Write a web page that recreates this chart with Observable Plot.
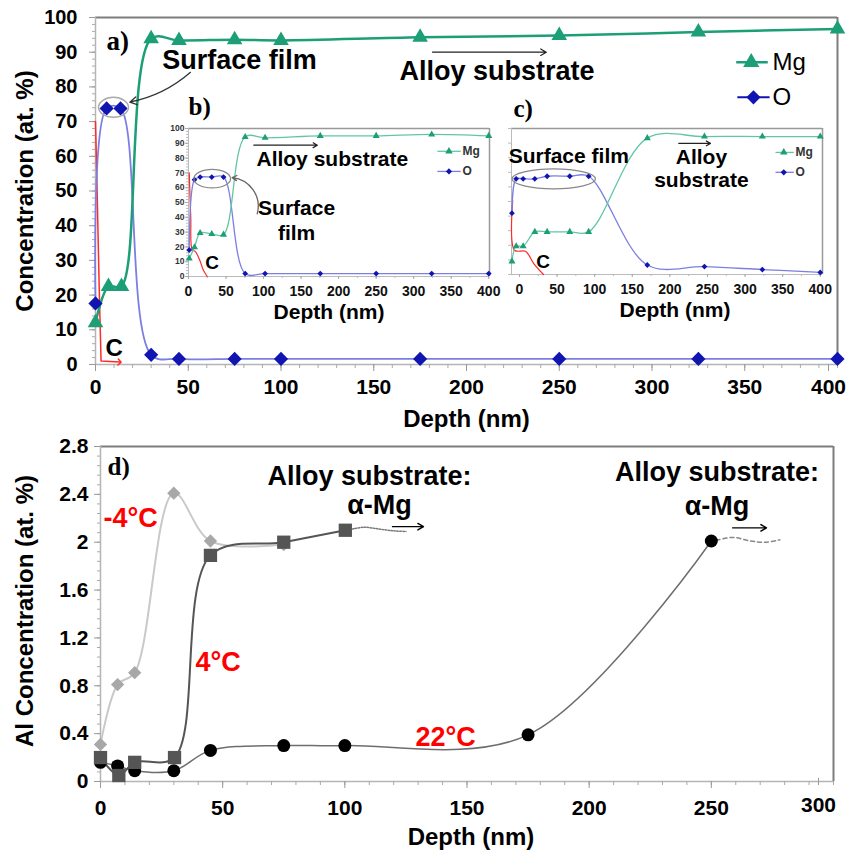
<!DOCTYPE html>
<html>
<head>
<meta charset="utf-8">
<script src="https://cdn.jsdelivr.net/npm/d3@7"></script>
<script src="https://cdn.jsdelivr.net/npm/@observablehq/plot@0.6"></script>
<style>
  html, body { margin: 0; padding: 0; background: #fff; }
  #root { position: relative; width: 848px; height: 855px; overflow: hidden; background: #fff; }
</style>
</head>
<body>
<div id="root"></div>
<script>
// ================= DATA =================
// Panel a) main depth profile
const depthMgA = [0, 7, 14, 30, 45, 75, 100, 175, 250, 325, 400];
const mgA      = [12, 22.5, 22.5, 93.9, 93.4, 93.6, 93.4, 94.3, 94.8, 95.8, 96.7];
const depthOA  = [0, 6, 13.5, 30, 45, 75, 100, 175, 250, 325, 400];
const oA       = [17.6, 73.8, 73.8, 2.8, 1.6, 1.6, 1.6, 1.6, 1.6, 1.6, 1.6];
const depthCA  = [0, 1, 2, 3, 13];
const cA       = [70, 47, 22, 1, 0.7];
const depthTicksA = [0, 50, 100, 150, 200, 250, 300, 350, 400];
const concTicksA  = [0, 10, 20, 30, 40, 50, 60, 70, 80, 90, 100];

// Inset b)
const depthB = [1, 8, 15.5, 31, 46.7, 75.5, 102, 175.5, 250, 324, 400];
const mgB    = [12.2, 19.7, 29.4, 28.7, 28.3, 94.3, 93.7, 95, 95, 96, 95];
const oB     = [17.9, 65.4, 67.2, 67.2, 67.2, 2, 2, 2, 2, 2, 2];
const depthCB = [1, 3, 5, 9, 15, 20, 25];
const cB      = [70, 40, 18, 17, 11, 4, 0];

// Inset c)
const depthC = [-10, -4.4, 4.9, 20.4, 36.8, 66.9, 92, 170, 246, 323, 400];
const mgC    = [9, 19.4, 19.4, 29.2, 29.2, 29.2, 29.2, 93.4, 94.5, 94.5, 94.5];
const oC     = [42, 65.5, 65.5, 65.5, 67.3, 67.3, 67.3, 6.5, 5.4, 3.4, 1.4];
const depthCC = [-9, -6.6, 8, 19, 32];
const cC      = [50.7, 16.6, 15.9, 7.5, 0];
const insetDepthTicks = [0, 50, 100, 150, 200, 250, 300, 350, 400];
const insetConcTicks  = [0, 10, 20, 30, 40, 50, 60, 70, 80, 90, 100];

// Panel d) Al concentration
const depthM4 = [0, 7, 14, 30, 45, 75];
const alM4    = [0.31, 0.81, 0.91, 2.41, 2.01, 1.98];
const depth4  = [0, 7.5, 14, 30.3, 45, 75, 100.2];
const al4     = [0.2, 0.05, 0.16, 0.2, 1.89, 2.0, 2.1];
const depth22 = [0, 7, 14, 30, 45, 75, 100, 175, 250];
const al22    = [0.16, 0.13, 0.09, 0.09, 0.26, 0.3, 0.3, 0.39, 2.01];
const trendDepth4  = [103, 108, 114, 120, 125];
const trendAl4     = [2.11, 2.125, 2.11, 2.095, 2.09];
const trendDepth22 = [252, 259, 266, 272, 278];
const trendAl22    = [2.015, 2.04, 2.01, 2.0, 2.02];
const depthTicksD = [0, 50, 100, 150, 200, 250, 300];
const alTicksD    = [0, 0.4, 0.8, 1.2, 1.6, 2, 2.4, 2.8];

// ================= HELPERS =================
const FONT = "'Liberation Sans', Arial, sans-serif";
const SERIF = "'Liberation Serif', 'Times New Roman', serif";
const MG = "#1c9e76", MG_LIGHT = "#62c6a6";
const O_DARK = "#1014b0", O_LINE = "#7c7fe2";
const C_RED = "#ff2a2a";
const RED = "#ff0000";
const tbl = (xs, ys) => xs.map((x, i) => ({x, y: ys[i]}));
const label = (x, y, t, o = {}) => Plot.text([{x, y, t}], {x: "x", y: "y", text: "t", ...o});
const arrow = (x1, y1, x2, y2, o = {}) => Plot.arrow([{x1, y1, x2, y2}], {x1: "x1", y1: "y1", x2: "x2", y2: "y2", ...o});
const seg = (x1, x2, y, o = {}) => Plot.link([{x1, x2, y}], {x1: "x1", x2: "x2", y1: "y", y2: "y", ...o});
function ellipseSymbol(aspect) {
  return {
    draw(context, size) {
      const ry = Math.sqrt(size / (Math.PI * aspect)), rx = ry * aspect, k = 0.5523;
      context.moveTo(rx, 0);
      context.bezierCurveTo(rx, k * ry, k * rx, ry, 0, ry);
      context.bezierCurveTo(-k * rx, ry, -rx, k * ry, -rx, 0);
      context.bezierCurveTo(-rx, -k * ry, -k * rx, -ry, 0, -ry);
      context.bezierCurveTo(k * rx, -ry, rx, -k * ry, rx, 0);
      context.closePath();
    }
  };
}
const ellipse = (x, y, rx, ry, o = {}) =>
  Plot.dot([{x, y}], {x: "x", y: "y", r: Math.sqrt(rx * ry), symbol: ellipseSymbol(rx / ry), fill: "none", ...o});
const blank = () => "";
const root = document.getElementById("root");
function place(svg, left, top) {
  svg.style.position = "absolute";
  svg.style.left = left + "px";
  svg.style.top = top + "px";
  root.appendChild(svg);
}
const baseStyle = {fontFamily: FONT, fontWeight: "bold", color: "#000", background: "transparent", overflow: "visible"};

// ================= PANEL a =================
const A = {mg: tbl(depthMgA, mgA), o: tbl(depthOA, oA), c: tbl(depthCA, cA)};
const plotA = Plot.plot({
  width: 848, height: 440,
  marginLeft: 95, marginRight: 11, marginTop: 17, marginBottom: 76,
  x: {domain: [0, 400]}, y: {domain: [0, 100]},
  style: baseStyle,
  marks: [
    Plot.ruleY([100], {stroke: "#7d7d7d", strokeWidth: 2}),
    Plot.ruleX([400], {stroke: "#7d7d7d", strokeWidth: 2}),
    Plot.ruleX([0], {stroke: "#b5b5b5", strokeWidth: 1.5}),
    Plot.ruleY([0], {stroke: "#b5b5b5", strokeWidth: 1.5}),
    Plot.axisY(d3.range(0, 101, 2), {tickSize: 3, tickFormat: blank, stroke: "#aaa", label: null}),
    Plot.axisY(concTicksA, {tickSize: 6, tickPadding: 12, fontSize: 20, stroke: "#999", fill: "#000", label: null}),
    Plot.axisX(d3.range(0, 401, 10), {tickSize: 4, tickFormat: blank, stroke: "#aaa", label: null}),
    Plot.axisX(depthTicksA.slice(0, -1), {tickSize: 7, tickPadding: 8, fontSize: 21, stroke: "#999", fill: "#000", label: null}),
    Plot.axisX(depthTicksA.slice(-1), {tickSize: 7, tickPadding: 8, fontSize: 21, stroke: "#999", fill: "#000", label: null, dx: -9}),
    Plot.text(["Concentration (at. %)"], {text: d => d, frameAnchor: "left", textAnchor: "middle", lineAnchor: "middle", dx: -70, rotate: -90, fontSize: 24, fontWeight: "bold"}),
    Plot.text(["Depth (nm)"], {text: d => d, frameAnchor: "bottom", textAnchor: "middle", lineAnchor: "middle", dy: 55, fontSize: 24, fontWeight: "bold"}),
    // series
    Plot.line(A.c, {x: "x", y: "y", stroke: C_RED, strokeWidth: 1.5, markerEnd: "arrow"}),
    Plot.line(A.o, {x: "x", y: "y", curve: "catmull-rom", stroke: O_LINE, strokeWidth: 1.8}),
    Plot.line(A.mg, {x: "x", y: "y", curve: "catmull-rom", stroke: MG, strokeWidth: 2.5}),
    Plot.dot(A.o, {x: "x", y: "y", symbol: "diamond2", r: 6.4, fill: O_DARK}),
    Plot.dot(A.mg, {x: "x", y: "y", symbol: "triangle", r: 5.8, fill: MG}),
    // annotations
    label(5.9, 93, "a)", {textAnchor: "start", fontFamily: SERIF, fontSize: 27, fontWeight: "bold"}),
    label(77.6, 87.6, "Surface film", {fontSize: 27, fontWeight: "bold"}),
    ellipse(9.7, 74.1, 15, 10, {stroke: "#aaa", strokeWidth: 1.5}),
    arrow(51.2, 84.2, 18.5, 75.6, {bend: 15, stroke: "#333", strokeWidth: 1.3, headLength: 9}),
    label(216.4, 84.4, "Alloy substrate", {fontSize: 27, fontWeight: "bold"}),
    arrow(181.7, 90, 243, 90, {stroke: "#222", strokeWidth: 1.2, headLength: 8}),
    label(5.4, 4.6, "C", {textAnchor: "start", fontSize: 24, fontWeight: "bold"}),
    // legend
    seg(345.4, 362.4, 87.1, {stroke: MG, strokeWidth: 2.5}),
    Plot.dot([{x: 353.5, y: 87.1}], {x: "x", y: "y", symbol: "triangle", r: 6, fill: MG}),
    label(365, 87.1, "Mg", {textAnchor: "start", fontSize: 24, fontWeight: "normal"}),
    seg(346, 363.4, 77, {stroke: O_DARK, strokeWidth: 2}),
    Plot.dot([{x: 354.7, y: 77}], {x: "x", y: "y", symbol: "diamond2", r: 6.4, fill: O_DARK}),
    label(365, 77, "O", {textAnchor: "start", fontSize: 24, fontWeight: "normal"})
  ]
});
place(plotA, 0, 0);

// ================= INSET b =================
const B = {mg: tbl(depthB, mgB), o: tbl(depthB, oB), c: tbl(depthCB, cB)};
const plotB = Plot.plot({
  width: 340, height: 240,
  marginLeft: 28, marginRight: 11, marginTop: 38, marginBottom: 54,
  x: {domain: [0, 401]}, y: {domain: [0, 100]},
  style: baseStyle,
  marks: [
    Plot.ruleY([100], {stroke: "#999", strokeWidth: 1.5}),
    Plot.ruleX([401], {stroke: "#999", strokeWidth: 1.5}),
    Plot.ruleX([0], {stroke: "#bbb"}),
    Plot.ruleY([0], {stroke: "#bbb"}),
    Plot.axisY(d3.range(0, 101, 2), {tickSize: 2, tickFormat: blank, stroke: "#bbb", label: null}),
    Plot.axisY(insetConcTicks, {tickSize: 3, tickPadding: 1, fontSize: 8.5, stroke: "#aaa", fill: "#333", label: null}),
    Plot.axisX(d3.range(0, 401, 25), {tickSize: 2, tickFormat: blank, stroke: "#bbb", label: null}),
    Plot.axisX(insetDepthTicks, {tickSize: 3, tickPadding: 7, fontSize: 14, stroke: "#aaa", fill: "#111", label: null}),
    Plot.text(["Depth (nm)"], {text: d => d, frameAnchor: "bottom", textAnchor: "middle", lineAnchor: "middle", dx: -10, dy: 36, fontSize: 21, fontWeight: "bold"}),
    Plot.line(B.c, {x: "x", y: "y", curve: "catmull-rom", stroke: C_RED, strokeWidth: 1.2}),
    Plot.line(B.o, {x: "x", y: "y", curve: "catmull-rom", stroke: O_LINE, strokeWidth: 1.3}),
    Plot.line(B.mg, {x: "x", y: "y", curve: "catmull-rom", stroke: MG_LIGHT, strokeWidth: 1.3}),
    Plot.dot(B.o, {x: "x", y: "y", symbol: "diamond2", r: 2.6, fill: O_DARK}),
    Plot.dot(B.mg, {x: "x", y: "y", symbol: "triangle", r: 2.6, fill: MG}),
    label(0, 114.4, "b)", {textAnchor: "start", fontFamily: SERIF, fontSize: 25, fontWeight: "bold"}),
    ellipse(31.6, 66.1, 18.3, 9.3, {stroke: "#888", strokeWidth: 1.2}),
    arrow(91.5, 42.3, 58.2, 66.8, {bend: -50, stroke: "#666", strokeWidth: 1.3, headLength: 6}),
    label(144, 45.8, "Surface", {fontSize: 21, fontWeight: "bold"}),
    label(144, 28.9, "film", {fontSize: 21, fontWeight: "bold"}),
    label(191.6, 79, "Alloy substrate", {fontSize: 21, fontWeight: "bold"}),
    arrow(87, 88.7, 171.6, 88.7, {stroke: "#222", strokeWidth: 1.2, headLength: 6}),
    label(31.6, 9.5, "C", {fontSize: 19, fontWeight: "bold"}),
    seg(331.6, 362.7, 84.6, {stroke: MG_LIGHT, strokeWidth: 1.3}),
    Plot.dot([{x: 347, y: 84.6}], {x: "x", y: "y", symbol: "triangle", r: 2.8, fill: MG}),
    label(365, 84.6, "Mg", {textAnchor: "start", fontSize: 12, fontWeight: "bold", fill: "#333"}),
    seg(331.6, 362.7, 71, {stroke: O_LINE, strokeWidth: 1.3}),
    Plot.dot([{x: 347, y: 71}], {x: "x", y: "y", symbol: "diamond2", r: 2.8, fill: O_DARK}),
    label(365, 71, "O", {textAnchor: "start", fontSize: 12, fontWeight: "bold", fill: "#333"})
  ]
});
place(plotB, 160, 90);

// ================= INSET c =================
const Cc = {mg: tbl(depthC, mgC), o: tbl(depthC, oC), c: tbl(depthCC, cC)};
const plotC = Plot.plot({
  width: 340, height: 240,
  marginLeft: 11, marginRight: 18, marginTop: 38, marginBottom: 56,
  x: {domain: [-10.6, 403]}, y: {domain: [0, 100]},
  style: baseStyle,
  marks: [
    Plot.ruleY([100], {stroke: "#999", strokeWidth: 1.5}),
    Plot.ruleX([403], {stroke: "#999", strokeWidth: 1.5}),
    Plot.ruleX([-10.6], {stroke: "#bbb"}),
    Plot.ruleY([0], {stroke: "#bbb"}),
    Plot.axisY(d3.range(0, 101, 10), {tickSize: 3, tickFormat: blank, stroke: "#bbb", label: null}),
    Plot.axisX(d3.range(0, 401, 25), {tickSize: 2, tickFormat: blank, stroke: "#bbb", label: null}),
    Plot.axisX(insetDepthTicks, {tickSize: 3, tickPadding: 7, fontSize: 14, stroke: "#aaa", fill: "#111", label: null}),
    Plot.text(["Depth (nm)"], {text: d => d, frameAnchor: "bottom", textAnchor: "middle", lineAnchor: "middle", dx: 8, dy: 36, fontSize: 21, fontWeight: "bold"}),
    Plot.line(Cc.c, {x: "x", y: "y", curve: "catmull-rom", stroke: C_RED, strokeWidth: 1.2}),
    Plot.line(Cc.o, {x: "x", y: "y", curve: "catmull-rom", stroke: O_LINE, strokeWidth: 1.3}),
    Plot.line(Cc.mg, {x: "x", y: "y", curve: "catmull-rom", stroke: MG_LIGHT, strokeWidth: 1.3}),
    Plot.dot(Cc.o, {x: "x", y: "y", symbol: "diamond2", r: 2.6, fill: O_DARK}),
    Plot.dot(Cc.mg, {x: "x", y: "y", symbol: "triangle", r: 2.6, fill: MG}),
    label(-8, 113.4, "c)", {textAnchor: "start", fontFamily: SERIF, fontSize: 25, fontWeight: "bold"}),
    ellipse(45.6, 65.5, 41.7, 10, {stroke: "#888", strokeWidth: 1.2}),
    label(65.6, 80.7, "Surface film", {fontSize: 21, fontWeight: "bold"}),
    label(242, 80, "Alloy", {fontSize: 21, fontWeight: "bold"}),
    label(242, 64.3, "substrate", {fontSize: 21, fontWeight: "bold"}),
    arrow(211.9, 89.8, 254, 89.8, {stroke: "#222", strokeWidth: 1.2, headLength: 6}),
    label(31.6, 8.6, "C", {fontSize: 19, fontWeight: "bold"}),
    seg(340.5, 364.9, 83.6, {stroke: MG_LIGHT, strokeWidth: 1.3}),
    Plot.dot([{x: 351.5, y: 83.6}], {x: "x", y: "y", symbol: "triangle", r: 2.8, fill: MG}),
    label(367, 83.6, "Mg", {textAnchor: "start", fontSize: 12, fontWeight: "bold", fill: "#333"}),
    seg(340.5, 364.9, 70, {stroke: O_LINE, strokeWidth: 1.3}),
    Plot.dot([{x: 351.5, y: 70}], {x: "x", y: "y", symbol: "diamond2", r: 2.8, fill: O_DARK}),
    label(367, 70, "O", {textAnchor: "start", fontSize: 12, fontWeight: "bold", fill: "#333"})
  ]
});
place(plotC, 500, 90);

// ================= PANEL d =================
const D = {
  m4: tbl(depthM4, alM4), p4: tbl(depth4, al4), p22: tbl(depth22, al22),
  t4: tbl(trendDepth4, trendAl4), t22: tbl(trendDepth22, trendAl22)
};
const fmtD = d => String(+d.toFixed(1));
const plotD = Plot.plot({
  width: 848, height: 415,
  marginLeft: 100, marginRight: 15, marginTop: 6, marginBottom: 74,
  x: {domain: [0, 300]}, y: {domain: [0, 2.8]},
  style: baseStyle,
  marks: [
    Plot.ruleY([2.8], {stroke: "#7d7d7d", strokeWidth: 2}),
    Plot.ruleX([300], {stroke: "#7d7d7d", strokeWidth: 2}),
    Plot.ruleX([0], {stroke: "#b5b5b5", strokeWidth: 1.5}),
    Plot.ruleY([0], {stroke: "#b5b5b5", strokeWidth: 1.5}),
    Plot.axisY(d3.range(0, 2.81, 0.08), {tickSize: 3, tickFormat: blank, stroke: "#aaa", label: null}),
    Plot.axisY(alTicksD, {tickSize: 6, tickPadding: 6, fontSize: 21, stroke: "#999", fill: "#000", tickFormat: fmtD, label: null}),
    Plot.axisX(d3.range(0, 301, 10), {tickSize: 4, tickFormat: blank, stroke: "#aaa", label: null}),
    Plot.axisX(depthTicksD.slice(0, -1), {tickSize: 7, tickPadding: 12, fontSize: 21, stroke: "#999", fill: "#000", label: null}),
    Plot.axisX(depthTicksD.slice(-1), {tickSize: 7, tickPadding: 12, fontSize: 21, stroke: "#999", fill: "#000", label: null, dx: -15, dy: -3}),
    Plot.text(["Al Concentration (at. %)"], {text: d => d, frameAnchor: "left", textAnchor: "middle", lineAnchor: "middle", dx: -75, dy: -3, rotate: -90, fontSize: 24, fontWeight: "bold"}),
    Plot.text(["Depth (nm)"], {text: d => d, frameAnchor: "bottom", textAnchor: "middle", lineAnchor: "middle", dx: 4, dy: 56, fontSize: 24, fontWeight: "bold"}),
    // series lines
    Plot.line(D.m4, {x: "x", y: "y", curve: "catmull-rom", stroke: "#c9c9c9", strokeWidth: 2}),
    Plot.line(D.p22, {x: "x", y: "y", curve: "catmull-rom", stroke: "#6e6e6e", strokeWidth: 1.5}),
    Plot.line(D.p4, {x: "x", y: "y", curve: "catmull-rom", stroke: "#555", strokeWidth: 2}),
    Plot.line(D.t4, {x: "x", y: "y", curve: "catmull-rom", stroke: "#777", strokeWidth: 1.5, strokeDasharray: "1.5,1.5"}),
    Plot.line(D.t22, {x: "x", y: "y", curve: "catmull-rom", stroke: "#888", strokeWidth: 1.5, strokeDasharray: "4,3"}),
    // markers
    Plot.dot(D.m4, {x: "x", y: "y", symbol: "diamond2", r: 6, fill: "#a8a8a8"}),
    Plot.dot(D.p22, {x: "x", y: "y", r: 6.5, fill: "#000"}),
    Plot.dot(D.p4, {x: "x", y: "y", symbol: "square", r: 7.5, fill: "#555"}),
    // annotations
    label(2.9, 2.63, "d)", {textAnchor: "start", fontFamily: SERIF, fontSize: 25, fontWeight: "bold"}),
    label(1.2, 2.2, "-4°C", {textAnchor: "start", fontSize: 27, fontWeight: "bold", fill: RED}),
    label(38.9, 0.995, "4°C", {textAnchor: "start", fontSize: 27, fontWeight: "bold", fill: RED}),
    label(128.9, 0.368, "22°C", {textAnchor: "start", fontSize: 27, fontWeight: "bold", fill: RED}),
    label(110.1, 2.55, "Alloy substrate:", {fontSize: 27, fontWeight: "bold"}),
    label(114.2, 2.31, "α-Mg", {fontSize: 27, fontWeight: "bold"}),
    label(252.3, 2.58, "Alloy substrate:", {fontSize: 27, fontWeight: "bold"}),
    label(252.3, 2.30, "α-Mg", {fontSize: 27, fontWeight: "bold"}),
    arrow(119.5, 2.13, 132.2, 2.13, {stroke: "#000", strokeWidth: 1.4, headLength: 7}),
    arrow(258.7, 2.12, 272.6, 2.12, {stroke: "#000", strokeWidth: 1.4, headLength: 7})
  ]
});
place(plotD, 0, 440);
</script>
</body>
</html>
